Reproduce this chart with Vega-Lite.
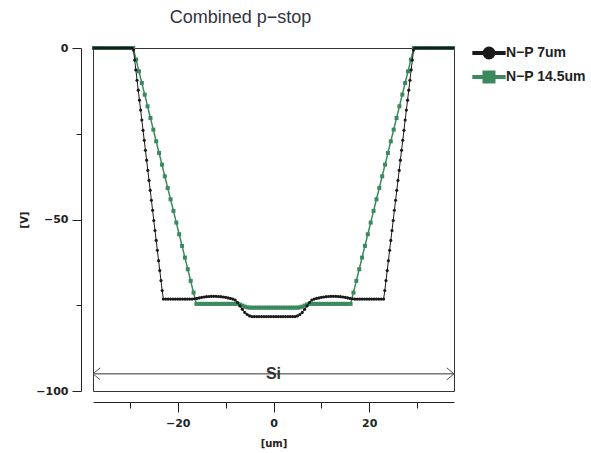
{
  "$schema": "https://vega.github.io/schema/vega-lite/v6.json",
  "width": 361,
  "height": 343,
  "autosize": {"type": "none"},
  "padding": {"left": 93, "top": 48, "right": 137, "bottom": 62},
  "background": "white",
  "config": {"view": {"stroke": "#333333", "strokeWidth": 1}, "font": "Liberation Sans"},
  "title": {"text": "Combined p−stop", "fontSize": 18, "fontWeight": "normal", "font": "Liberation Sans", "color": "#333340", "anchor": "middle", "frame": "group", "dx": -33, "baseline": "alphabetic", "offset": 1},
  "datasets": {
    "black": [
      {"x":-37.5,"y":0},{"x":-37,"y":0},{"x":-36.5,"y":0},{"x":-36,"y":0},{"x":-35.5,"y":0},{"x":-35,"y":0},{"x":-34.5,"y":0},{"x":-34,"y":0},{"x":-33.5,"y":0},{"x":-33,"y":0},{"x":-32.5,"y":0},{"x":-32,"y":0},{"x":-31.5,"y":0},{"x":-31,"y":0},{"x":-30.5,"y":0},{"x":-30,"y":0},{"x":-29.5,"y":0},
      {"x":-29.25,"y":-0.6},{"x":-29,"y":-3.5},{"x":-28.75,"y":-6.4},{"x":-28.5,"y":-9.4},{"x":-28.25,"y":-12.3},{"x":-28,"y":-15.2},{"x":-27.75,"y":-18.1},{"x":-27.5,"y":-21},{"x":-27.25,"y":-24},{"x":-27,"y":-26.9},{"x":-26.75,"y":-29.8},{"x":-26.5,"y":-32.7},{"x":-26.25,"y":-35.7},{"x":-26,"y":-38.6},{"x":-25.75,"y":-41.5},{"x":-25.5,"y":-44.4},{"x":-25.25,"y":-47.3},{"x":-25,"y":-50.3},{"x":-24.75,"y":-53.2},{"x":-24.5,"y":-56.1},{"x":-24.25,"y":-59},{"x":-24,"y":-62},{"x":-23.75,"y":-64.9},{"x":-23.5,"y":-67.8},{"x":-23.25,"y":-70.7},{"x":-23,"y":-73.2},
      {"x":-22.5,"y":-73.2},{"x":-22,"y":-73.2},{"x":-21.5,"y":-73.2},{"x":-21,"y":-73.2},{"x":-20.5,"y":-73.2},{"x":-20,"y":-73.2},{"x":-19.5,"y":-73.2},{"x":-19,"y":-73.2},{"x":-18.5,"y":-73.2},{"x":-18,"y":-73.2},{"x":-17.5,"y":-73.2},{"x":-17,"y":-73.2},
      {"x":-16.5,"y":-73.1},{"x":-16,"y":-73},{"x":-15.5,"y":-72.85},{"x":-15,"y":-72.7},{"x":-14.5,"y":-72.6},{"x":-14,"y":-72.5},{"x":-13.5,"y":-72.45},{"x":-13,"y":-72.4},{"x":-12.5,"y":-72.4},{"x":-12,"y":-72.4},{"x":-11.5,"y":-72.45},{"x":-11,"y":-72.5},{"x":-10.5,"y":-72.6},{"x":-10,"y":-72.7},{"x":-9.5,"y":-72.85},{"x":-9,"y":-73},{"x":-8.5,"y":-73.2},{"x":-8,"y":-73.5},{"x":-7.5,"y":-74.2},{"x":-7,"y":-75.2},{"x":-6.5,"y":-76.2},{"x":-6,"y":-77.1},{"x":-5.5,"y":-77.7},{"x":-5,"y":-78.1},{"x":-4.5,"y":-78.3},{"x":-4,"y":-78.3},{"x":-3.5,"y":-78.3},{"x":-3,"y":-78.3},{"x":-2.5,"y":-78.3},{"x":-2,"y":-78.3},{"x":-1.5,"y":-78.3},{"x":-1,"y":-78.3},{"x":-0.5,"y":-78.3},{"x":0,"y":-78.3},
      {"x":0.5,"y":-78.3},{"x":1,"y":-78.3},{"x":1.5,"y":-78.3},{"x":2,"y":-78.3},{"x":2.5,"y":-78.3},{"x":3,"y":-78.3},{"x":3.5,"y":-78.3},{"x":4,"y":-78.3},{"x":4.5,"y":-78.3},{"x":5,"y":-78.1},{"x":5.5,"y":-77.7},{"x":6,"y":-77.1},{"x":6.5,"y":-76.2},{"x":7,"y":-75.2},{"x":7.5,"y":-74.2},{"x":8,"y":-73.5},{"x":8.5,"y":-73.2},{"x":9,"y":-73},{"x":9.5,"y":-72.85},{"x":10,"y":-72.7},{"x":10.5,"y":-72.6},{"x":11,"y":-72.5},{"x":11.5,"y":-72.45},{"x":12,"y":-72.4},{"x":12.5,"y":-72.4},{"x":13,"y":-72.4},{"x":13.5,"y":-72.45},{"x":14,"y":-72.5},{"x":14.5,"y":-72.6},{"x":15,"y":-72.7},{"x":15.5,"y":-72.85},{"x":16,"y":-73},{"x":16.5,"y":-73.1},
      {"x":17,"y":-73.2},{"x":17.5,"y":-73.2},{"x":18,"y":-73.2},{"x":18.5,"y":-73.2},{"x":19,"y":-73.2},{"x":19.5,"y":-73.2},{"x":20,"y":-73.2},{"x":20.5,"y":-73.2},{"x":21,"y":-73.2},{"x":21.5,"y":-73.2},{"x":22,"y":-73.2},{"x":22.5,"y":-73.2},{"x":23,"y":-73.2},
      {"x":23.25,"y":-70.7},{"x":23.5,"y":-67.8},{"x":23.75,"y":-64.9},{"x":24,"y":-62},{"x":24.25,"y":-59},{"x":24.5,"y":-56.1},{"x":24.75,"y":-53.2},{"x":25,"y":-50.3},{"x":25.25,"y":-47.3},{"x":25.5,"y":-44.4},{"x":25.75,"y":-41.5},{"x":26,"y":-38.6},{"x":26.25,"y":-35.7},{"x":26.5,"y":-32.7},{"x":26.75,"y":-29.8},{"x":27,"y":-26.9},{"x":27.25,"y":-24},{"x":27.5,"y":-21},{"x":27.75,"y":-18.1},{"x":28,"y":-15.2},{"x":28.25,"y":-12.3},{"x":28.5,"y":-9.4},{"x":28.75,"y":-6.4},{"x":29,"y":-3.5},{"x":29.25,"y":-0.6},
      {"x":29.5,"y":0},{"x":30,"y":0},{"x":30.5,"y":0},{"x":31,"y":0},{"x":31.5,"y":0},{"x":32,"y":0},{"x":32.5,"y":0},{"x":33,"y":0},{"x":33.5,"y":0},{"x":34,"y":0},{"x":34.5,"y":0},{"x":35,"y":0},{"x":35.5,"y":0},{"x":36,"y":0},{"x":36.5,"y":0},{"x":37,"y":0},{"x":37.5,"y":0}
    ],
    "green": [
      {"x":-37.5,"y":0},{"x":-37,"y":0},{"x":-36.5,"y":0},{"x":-36,"y":0},{"x":-35.5,"y":0},{"x":-35,"y":0},{"x":-34.5,"y":0},{"x":-34,"y":0},{"x":-33.5,"y":0},{"x":-33,"y":0},{"x":-32.5,"y":0},{"x":-32,"y":0},{"x":-31.5,"y":0},{"x":-31,"y":0},{"x":-30.5,"y":0},{"x":-30,"y":0},{"x":-29.3,"y":0},
      {"x":-28.7,"y":-3.4},{"x":-28.1,"y":-6.8},{"x":-27.5,"y":-10.2},{"x":-26.9,"y":-13.6},{"x":-26.3,"y":-17},{"x":-25.7,"y":-20.4},{"x":-25.1,"y":-23.8},{"x":-24.5,"y":-27.2},{"x":-23.9,"y":-30.6},{"x":-23.3,"y":-34},{"x":-22.7,"y":-37.4},{"x":-22.1,"y":-40.8},{"x":-21.5,"y":-44.1},{"x":-20.9,"y":-47.5},{"x":-20.3,"y":-50.9},{"x":-19.7,"y":-54.3},{"x":-19.1,"y":-57.7},{"x":-18.5,"y":-61.1},{"x":-17.9,"y":-64.5},{"x":-17.3,"y":-67.9},{"x":-16.7,"y":-71.3},{"x":-16.1,"y":-74.6},
      {"x":-15.5,"y":-74.6},{"x":-15,"y":-74.6},{"x":-14.5,"y":-74.6},{"x":-14,"y":-74.6},{"x":-13.5,"y":-74.6},{"x":-13,"y":-74.6},{"x":-12.5,"y":-74.6},{"x":-12,"y":-74.6},{"x":-11.5,"y":-74.6},{"x":-11,"y":-74.6},{"x":-10.5,"y":-74.6},{"x":-10,"y":-74.6},{"x":-9.5,"y":-74.6},{"x":-9,"y":-74.6},{"x":-8.5,"y":-74.6},{"x":-8,"y":-74.6},{"x":-7.5,"y":-74.6},
      {"x":-7,"y":-74.8},{"x":-6.5,"y":-75.1},{"x":-6,"y":-75.4},{"x":-5.5,"y":-75.6},{"x":-5,"y":-75.7},{"x":-4.5,"y":-75.7},{"x":-4,"y":-75.7},{"x":-3.5,"y":-75.7},{"x":-3,"y":-75.7},{"x":-2.5,"y":-75.7},{"x":-2,"y":-75.7},{"x":-1.5,"y":-75.7},{"x":-1,"y":-75.7},{"x":-0.5,"y":-75.7},{"x":0,"y":-75.7},
      {"x":0.5,"y":-75.7},{"x":1,"y":-75.7},{"x":1.5,"y":-75.7},{"x":2,"y":-75.7},{"x":2.5,"y":-75.7},{"x":3,"y":-75.7},{"x":3.5,"y":-75.7},{"x":4,"y":-75.7},{"x":4.5,"y":-75.7},{"x":5,"y":-75.7},{"x":5.5,"y":-75.6},{"x":6,"y":-75.4},{"x":6.5,"y":-75.1},{"x":7,"y":-74.8},
      {"x":7.5,"y":-74.6},{"x":8,"y":-74.6},{"x":8.5,"y":-74.6},{"x":9,"y":-74.6},{"x":9.5,"y":-74.6},{"x":10,"y":-74.6},{"x":10.5,"y":-74.6},{"x":11,"y":-74.6},{"x":11.5,"y":-74.6},{"x":12,"y":-74.6},{"x":12.5,"y":-74.6},{"x":13,"y":-74.6},{"x":13.5,"y":-74.6},{"x":14,"y":-74.6},{"x":14.5,"y":-74.6},{"x":15,"y":-74.6},{"x":15.5,"y":-74.6},
      {"x":16.1,"y":-74.6},{"x":16.7,"y":-71.3},{"x":17.3,"y":-67.9},{"x":17.9,"y":-64.5},{"x":18.5,"y":-61.1},{"x":19.1,"y":-57.7},{"x":19.7,"y":-54.3},{"x":20.3,"y":-50.9},{"x":20.9,"y":-47.5},{"x":21.5,"y":-44.1},{"x":22.1,"y":-40.8},{"x":22.7,"y":-37.4},{"x":23.3,"y":-34},{"x":23.9,"y":-30.6},{"x":24.5,"y":-27.2},{"x":25.1,"y":-23.8},{"x":25.7,"y":-20.4},{"x":26.3,"y":-17},{"x":26.9,"y":-13.6},{"x":27.5,"y":-10.2},{"x":28.1,"y":-6.8},{"x":28.7,"y":-3.4},
      {"x":29.3,"y":0},{"x":30,"y":0},{"x":30.5,"y":0},{"x":31,"y":0},{"x":31.5,"y":0},{"x":32,"y":0},{"x":32.5,"y":0},{"x":33,"y":0},{"x":33.5,"y":0},{"x":34,"y":0},{"x":34.5,"y":0},{"x":35,"y":0},{"x":35.5,"y":0},{"x":36,"y":0},{"x":36.5,"y":0},{"x":37,"y":0},{"x":37.5,"y":0}
    ],
    "siLine": [{"x":-37.7,"y":-95},{"x":37.7,"y":-95}],
    "siLeft": [{"x":-37.7,"y":-95}],
    "siRight": [{"x":37.7,"y":-95}],
    "siLabel": [{"x":0,"y":-95,"t":"Si"}],
    "series": [{"s":"N−P 7um"},{"s":"N−P 14.5um"}]
  },
  "encoding": {
    "x": {"field": "x", "type": "quantitative", "scale": {"domain": [-37.7, 37.7], "nice": false, "zero": false},
      "axis": {"title": "[um]", "values": [-30,-20,-10,0,10,20,30], "labelExpr": "datum.value % 20 === 0 ? datum.label : ''", "offset": 11, "grid": false,
        "domainColor": "#222222", "tickColor": "#222222", "tickSize": {"condition": {"test": "datum.value % 20 === 0", "value": 10}, "value": 6},
        "labelFont": "DejaVu Sans", "labelFontWeight": "bold", "labelFontSize": 11, "labelPadding": 5, "labelColor": "#222222",
        "titleFont": "DejaVu Sans", "titleFontSize": 10, "titleFontWeight": "bold", "titlePadding": 10, "titleColor": "#222222"}},
    "y": {"field": "y", "type": "quantitative", "scale": {"domain": [-100, 0], "nice": false, "zero": false},
      "axis": {"title": "[V]", "values": [0,-25,-50,-75,-100], "labelExpr": "datum.value % 50 === 0 ? datum.label : ''", "offset": 12, "grid": false,
        "domainColor": "#222222", "tickColor": "#222222", "tickSize": {"condition": {"test": "datum.value % 50 === 0", "value": 9}, "value": 5},
        "labelFont": "DejaVu Sans", "labelFontWeight": "bold", "labelFontSize": 11, "labelPadding": 4, "labelColor": "#222222",
        "titleFont": "DejaVu Sans", "titleFontSize": 10, "titleFontWeight": "bold", "titlePadding": 6, "titleColor": "#222222"}}
  },
  "layer": [
    {"data": {"name": "siLine"}, "mark": {"type": "line", "color": "#333333", "strokeWidth": 1}},
    {"data": {"name": "siLeft"}, "mark": {"type": "point", "shape": "M1.2,-1L0,0L1.2,1", "filled": false, "stroke": "#555555", "strokeWidth": 1, "size": 144, "opacity": 1}},
    {"data": {"name": "siRight"}, "mark": {"type": "point", "shape": "M-1.2,-1L0,0L-1.2,1", "filled": false, "stroke": "#555555", "strokeWidth": 1, "size": 144, "opacity": 1}},
    {"data": {"name": "siLabel"}, "mark": {"type": "text", "font": "Liberation Sans", "fontSize": 16, "fontWeight": "bold", "color": "#333333", "baseline": "middle", "align": "center"}, "encoding": {"text": {"field": "t"}}},
    {"data": {"name": "green"}, "mark": {"type": "line", "color": "#3b8a5e", "strokeWidth": 1.5}},
    {"data": {"name": "green"}, "mark": {"type": "point", "shape": "square", "filled": true, "color": "#3b8a5e", "size": 16, "opacity": 1}},
    {"data": {"name": "black"}, "mark": {"type": "line", "color": "#1a1a1a", "strokeWidth": 1}},
    {"data": {"name": "black"}, "mark": {"type": "point", "shape": "circle", "filled": true, "color": "#1a1a1a", "size": 10, "opacity": 1}},
    {"data": {"name": "series"}, "mark": {"type": "point", "filled": true, "opacity": 0},
      "encoding": {
        "x": {"value": 0}, "y": {"value": 0},
        "fill": {"field": "s", "type": "nominal", "scale": {"domain": ["N−P 7um", "N−P 14.5um"], "range": ["#1a1a1a", "#3b8a5e"]},
          "legend": {"orient": "none", "legendX": 385, "legendY": -6, "title": null, "padding": 0, "symbolSize": 324, "symbolStrokeWidth": 4, "symbolOpacity": 1, "labelFont": "Liberation Sans", "labelFontSize": 14, "labelFontWeight": "bold", "labelColor": "#222222", "labelOffset": 6, "rowPadding": -4}},
        "stroke": {"field": "s", "type": "nominal", "scale": {"domain": ["N−P 7um", "N−P 14.5um"], "range": ["#1a1a1a", "#3b8a5e"]},
          "legend": {"orient": "none", "legendX": 385, "legendY": -6, "title": null, "padding": 0, "symbolSize": 324, "symbolStrokeWidth": 4, "symbolOpacity": 1, "labelFont": "Liberation Sans", "labelFontSize": 14, "labelFontWeight": "bold", "labelColor": "#222222", "labelOffset": 6, "rowPadding": -4}},
        "shape": {"field": "s", "type": "nominal", "scale": {"domain": ["N−P 7um", "N−P 14.5um"], "range": ["M-1.85,0H1.85M-0.5,0A0.5,0.5,0,1,0,0.5,0A0.5,0.5,0,1,0,-0.5,0Z", "M-1.85,0H1.85M-0.5,-0.5H0.5V0.5H-0.5Z"]},
          "legend": {"orient": "none", "legendX": 385, "legendY": -6, "title": null, "padding": 0, "symbolSize": 324, "symbolStrokeWidth": 4, "symbolOpacity": 1, "labelFont": "Liberation Sans", "labelFontSize": 14, "labelFontWeight": "bold", "labelColor": "#222222", "labelOffset": 6, "rowPadding": -4}}
      }}
  ]
}
